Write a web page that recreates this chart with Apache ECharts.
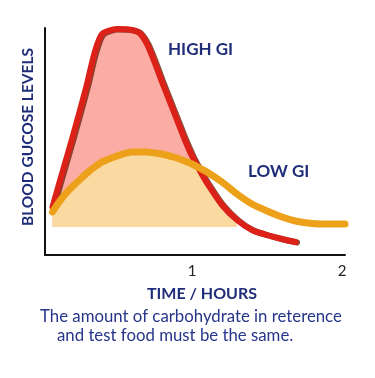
<!DOCTYPE html>
<html><head><meta charset="utf-8">
<script src="https://cdn.jsdelivr.net/npm/echarts@6/dist/echarts.min.js"></script>
<style>html,body{margin:0;padding:0;background:#fff}#c{width:375px;height:378px}</style>
</head><body><div id="c"></div>
<script>
// time in hours
const hours = [0.07,0.1,0.15,0.2,0.25,0.3,0.35,0.4,0.5,0.6,0.65,0.7,0.75,0.8,0.85,0.9,0.95,1.0,1.05,1.1,1.2,1.3,1.4,1.5,1.6,1.69,1.8,1.9,2.02];
// blood glucose (relative units above fasting baseline)
const highGI = [20,36,62,88,115,143,174,193,198,197,194,183,165,145,126,107,88,71,57,44,22,7,-3,-8,-12,-15,null,null,null];
const lowGI  = [15,22,32,40,47,54,60,65,71,75,75,75,74,73,71,69,66,63,59,55,45,33,23,16,10,6,3.5,3,3];
const fillEnd = 1.3;
const xTicks = [1,2];
const seriesNames = ['HIGH GI','LOW GI'];

const navy = '#1f2d78';
const pts = (ys) => hours.map((h,i)=>[h, ys[i]]).filter(p=>p[1]!==null);
const redFill = hours.map((h,i)=>[h, highGI[i]]).filter(p=>p[0]<=fillEnd);
const tanFill = hours.map((h,i)=>[h, Math.min(highGI[i], lowGI[i])]).filter(p=>p[0]<=fillEnd);

const chart = echarts.init(document.getElementById('c'), null, {renderer:'canvas'});
const sm = 0.25;
chart.setOption({
  animation:false,
  grid:{left:45, width:300, top:28, height:227},
  xAxis:{type:'value', min:0.02, max:2.02,
    axisLine:{show:true, onZero:false, lineStyle:{color:'#111', width:2}},
    axisTick:{show:false}, splitLine:{show:false},
    axisLabel:{customValues:xTicks, color:'#222', fontSize:15, fontFamily:'Lato', margin:9, formatter:v=>String(v)},
    name:'TIME / HOURS', nameLocation:'middle', nameGap:31,
    nameTextStyle:{color:navy, fontSize:16, fontWeight:'bold', fontFamily:'Lato', padding:[0,0,0,14]}
  },
  yAxis:{type:'value', min:-28, max:199,
    axisLine:{show:true, onZero:false, lineStyle:{color:'#111', width:2}},
    axisTick:{show:false}, splitLine:{show:false}, axisLabel:{show:false},
    name:'BLOOD GUCOSE LEVELS', nameLocation:'middle', nameGap:9,
    nameTextStyle:{color:navy, fontSize:15.5, fontWeight:'bold', fontFamily:'Lato', padding:[0,0,0,9]}
  },
  series:[
    {type:'line', data:redFill, smooth:sm, symbol:'none', clip:false, silent:true,
      lineStyle:{width:0}, areaStyle:{color:'#fbada5', opacity:1, origin:0}},
    {type:'line', data:tanFill, smooth:sm, symbol:'none', clip:false, silent:true,
      lineStyle:{width:0}, areaStyle:{color:'#fbdaa2', opacity:1, origin:0}},
    {name:seriesNames[0], type:'line', data:pts(highGI), smooth:sm, symbol:'none', clip:false,
      lineStyle:{color:'#dc2218', width:6, cap:'round', join:'round',
        shadowColor:'rgba(120,45,25,0.85)', shadowBlur:0, shadowOffsetX:1.5, shadowOffsetY:0.5}, z:3},
    {name:seriesNames[1], type:'line', data:pts(lowGI), smooth:sm, symbol:'none', clip:false,
      lineStyle:{color:'#eda11b', width:7, cap:'round', join:'round'}, z:4}
  ],
  graphic:[
    {type:'text', left:168, top:41, style:{text:seriesNames[0], fill:navy, font:'bold 17px Lato'}},
    {type:'text', left:248, top:163, style:{text:seriesNames[1], fill:navy, font:'bold 17px Lato'}},
    {type:'text', left:40, top:308, style:{text:'The amount of carbohydrate in reterence', fill:'#27358a', font:'16.8px Lato'}},
    {type:'text', left:57, top:327, style:{text:'and test food must be the same.', fill:'#27358a', font:'16.8px Lato'}}
  ]
});
</script></body></html>
